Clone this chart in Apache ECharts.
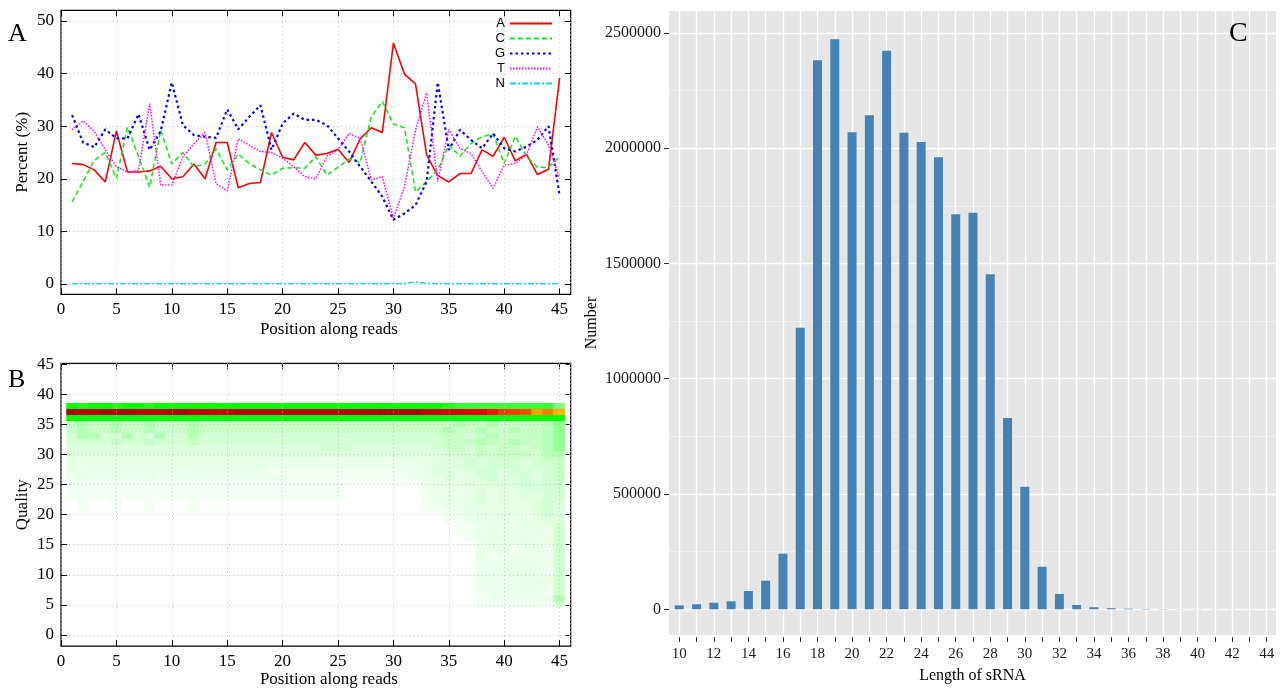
<!DOCTYPE html>
<html><head><meta charset="utf-8">
<script src="https://cdn.jsdelivr.net/npm/echarts@6/dist/echarts.min.js"></script>
<style>html,body{margin:0;padding:0;background:#fff}#c{width:1280px;height:689px}</style>
</head><body><div id="c"></div>
<script>
// ---------- Panel A: base composition (%) along reads ----------
const positions = [1,2,3,4,5,6,7,8,9,10,11,12,13,14,15,16,17,18,19,20,21,22,23,24,25,26,27,28,29,30,31,32,33,34,35,36,37,38,39,40,41,42,43,44,45];
const pctA = [22.9,22.7,21.7,19.4,29.1,21.3,21.3,21.5,22.4,20.0, 20.4,22.8,20.0,26.9,26.9,18.3,19.1,19.3,28.8,24.1, 23.6,26.9,24.5,24.8,25.6,23.1,27.6,29.7,28.8,45.8, 39.9,38.0,24.5,20.6,19.4,21.0,21.0,25.5,24.3,27.9, 23.4,24.7,20.8,21.8,39.2];
const pctC = [15.6,19.5,23.5,25.0,20.1,29.8,24.2,18.4,29.3,22.8, 25.0,22.3,22.8,25.7,21.7,24.7,22.9,21.7,20.7,22.0, 22.1,22.0,24.2,20.7,22.2,23.8,23.1,31.8,34.7,30.4, 29.7,17.5,19.5,21.7,26.4,24.3,26.7,28.0,28.5,22.9, 28.1,24.3,22.2,22.2,24.2];
const pctG = [32.1,26.9,26.0,29.4,27.7,27.7,32.3,25.5,29.1,38.3, 30.2,28.3,28.0,27.8,33.2,29.4,31.8,34.0,25.5,30.5, 32.4,31.2,31.2,30.2,27.7,25.2,22.3,19.5,16.6,12.2, 13.4,15.0,19.5,38.3,25.5,29.3,27.4,25.8,28.6,25.8, 25.2,26.1,27.4,30.0,16.8];
const pctT = [29.3,31.0,29.0,25.5,22.3,21.3,21.6,34.3,18.8,18.8, 24.2,26.7,28.8,19.1,17.7,27.6,26.4,25.2,25.0,23.9, 22.3,20.4,20.0,24.3,25.5,28.6,27.7,19.8,20.4,12.5, 18.5,29.3,36.3,19.5,29.4,25.8,24.8,21.4,18.2,22.6, 22.9,24.5,29.9,26.4,20.1];
const pctN = [0.05,0.05,0.05,0.05,0.05,0.05,0.05,0.05,0.05,0.05, 0.05,0.05,0.05,0.05,0.05,0.05,0.05,0.05,0.05,0.05, 0.05,0.05,0.05,0.05,0.05,0.05,0.05,0.05,0.05,0.05, 0.1,0.4,0.1,0.05,0.05,0.05,0.05,0.05,0.05,0.05, 0.05,0.05,0.05,0.05,0.05];

// ---------- Panel B: quality distribution heatmap ----------
const qualityLevels = [0,1,2,3,4,5,6,7,8,9,10,11,12,13,14,15,16,17,18,19,20,21,22,23,24,25,26,27,28,29,30,31,32,33,34,35,36,37,38,39,40];
const q38 = [12,9,12,10,9, 12,12,9,10,12, 10,12,12,12,12, 12,12,12,12,12, 12,12,12,12,12, 12,12,12,12,12, 12,12,12,12,9, 8,8,8,8,8, 8,8,8,8,5];
const q37 = [60,58,58,60,58, 60,58,58,58,58, 60,57,57,57,57, 58,58,58,58,58, 58,58,58,58,58, 59,59,61,62,62, 61,60,57,56,55, 55,52,52,48,44, 44,42,33,37,31];
const q36 = [12,12,12,12,12, 12,12,12,12,12, 12,12,12,12,12, 12,12,12,12,12, 12,12,12,12,12, 12,12,12,12,12, 12,12,12,12,12, 12,12,12,12,12, 12,12,12,12,10];
// percentage for each code digit used in the low-quality rows
const levelValues = [0, 0.2, 0.45, 0.7, 1.0, 1.35, 1.7, 2.2, 3.0, 4.2];
const lowRowQuality = [35,34,33,32,31,30,29,28,27,26,25,24,23,22,21,20,19,18,17,16,15,14,13,12,11,10,9,8,7,6,5,0];
const lowRowCodes = [
 "78778 77877 78777 77777 77777 77777 77777 87787 77789",
 "78778 77877 78777 77777 77777 77777 77778 77877 87789",
 "68866 86686 68666 66666 66666 66666 66667 76787 77789",
 "66667 66766 67666 66666 66666 66666 66667 77877 87789",
 "55555 55555 55555 55555 55566 65555 55566 76767 76789",
 "55555 55555 55555 55555 55555 55555 55556 66767 77688",
 "44444 44444 44444 44433 33333 33333 44455 56566 65677",
 "44444 44444 44444 44433 33333 33333 33455 56566 65667",
 "33333 33333 33333 33322 22222 22222 33455 45665 66567",
 "34334 33433 33333 33333 22222 22222 23345 45565 56567",
 "22222 22222 22222 22222 22222 11111 11344 45455 56566",
 "22222 22222 22222 22222 22222 00000 00234 44545 45566",
 "22222 22222 22222 22222 22222 00000 00234 34545 45466",
 "02002 00200 02000 00000 00000 00000 00234 34545 44565",
 "02002 00200 02010 00000 00000 00000 00223 34444 44565",
 "00000 00000 00000 00000 00000 00000 00002 33444 43465",
 "00000 00000 00000 00000 00000 00000 00002 23434 34455",
 "00000 00000 00000 00000 00000 00000 00000 22343 34446",
 "00000 00000 00000 00000 00000 00000 00000 22343 33436",
 "00000 00000 00000 00000 00000 00000 00000 02344 34346",
 "00000 00000 00000 00000 00000 00000 00000 00343 34436",
 "00000 00000 00000 00000 00000 00000 00000 00334 23446",
 "00000 00000 00000 00000 00000 00000 00000 00423 43336",
 "00000 00000 00000 00000 00000 00000 00000 00333 34346",
 "00000 00000 00000 00000 00000 00000 00000 00334 43436",
 "00000 00000 00000 00000 00000 00000 00000 00343 44336",
 "00000 00000 00000 00000 00000 00000 00000 00333 33446",
 "00000 00000 00000 00000 00000 00000 00000 00333 43436",
 "00000 00000 00000 00000 00000 00000 00000 00233 33336",
 "00000 00000 00000 00000 00000 00000 00000 00233 33348",
 "00000 00000 00000 00000 00000 00000 00000 00222 22225",
 "00000 00000 00000 00000 00000 00000 01000 00000 00000"
];

// ---------- Panel C: sRNA length distribution ----------
const lengths = [10,11,12,13,14,15,16,17,18,19,20,21,22,23,24,25,26,27,28,29,30,31,32,33,34,35,36,37,38,39,40,41,42,43,44];
const counts = [17300,21700,28600,34700,79400,124000,241100,1221000,2380700,2471800, 2068500,2142200,2422400,2066800,2026500,1960100,1712900,1719900,1452700,829600, 531700,184700,66300,18600,9000,4500,2500,1600,1100,800, 600,500,400,300,300];

// ---------- build ----------
const SERIF = 'Liberation Serif';
const pairs = arr => arr.map((v, i) => [positions[i], v]);
const heatData = [];
[[38, q38], [37, q37], [36, q36]].forEach(([q, row]) => row.forEach((v, i) => heatData.push([i, q, v])));
lowRowCodes.forEach((s, r) => {
  s.replace(/ /g, '').split('').forEach((c, i) => {
    if (c !== '0') heatData.push([i, lowRowQuality[r], levelValues[+c]]);
  });
});

const dotted = {show: true, lineStyle: {color: '#c4c4c4', type: [1, 3], width: 1}};
const blackTick = {show: true, inside: true, length: 6, lineStyle: {color: '#000', width: 1}};
const serifLabel = {margin: 7, fontFamily: SERIF, fontSize: 17, color: '#000'};
const nameSerif = {fontFamily: SERIF, fontSize: 17, color: '#000'};
const hiddenAxis = (gridIndex, extra) => Object.assign({type: 'value', gridIndex, min: 0, max: 1, show: true,
  axisLine: {show: false}, axisTick: {show: false}, axisLabel: {show: false}, splitLine: {show: false}}, extra || {});

const grids = [
  {left: 61, top: 10.3, width: 509.7, height: 284, show: true, borderColor: '#000', borderWidth: 1.2, backgroundColor: 'transparent'},
  {left: 61, top: 21, width: 509.7, height: 263},
  {left: 61, top: 363.3, width: 509.7, height: 284.4, show: true, borderColor: '#000', borderWidth: 1.2, backgroundColor: 'transparent'},
  {left: 61, top: 364.1, width: 509.7, height: 270.9},
  {left: 66.5, top: 391.2, width: 498.2, height: 246.8},
  {left: 669, top: 11, width: 607, height: 626, show: true, backgroundColor: '#e6e6e6', borderWidth: 0},
  {left: 679.3, top: 11, width: 587.4, height: 626},
  {left: 669, top: 32.8, width: 607, height: 576.5},
  {left: 679.3, top: 32.8, width: 587.4, height: 576.5}
];

const xAxes = [
  {type: 'value', gridIndex: 0, min: 0, max: 46, interval: 5, position: 'bottom', axisLine: {show: false}, axisTick: blackTick,
   axisLabel: Object.assign({showMaxLabel: false}, serifLabel), splitLine: dotted,
   name: 'Position along reads', nameLocation: 'middle', nameGap: 27, nameTextStyle: Object.assign({padding: [0, 0, 0, 26]}, nameSerif)},
  {type: 'value', gridIndex: 0, min: 0, max: 46, interval: 5, position: 'top', axisLine: {show: false}, axisTick: blackTick, axisLabel: {show: false}, splitLine: {show: false}},
  {type: 'value', gridIndex: 1, min: 0, max: 46, show: false},
  {type: 'value', gridIndex: 2, min: 0, max: 46, interval: 5, position: 'bottom', z: 3, axisLine: {show: false}, axisTick: blackTick,
   axisLabel: Object.assign({showMaxLabel: false}, serifLabel), splitLine: dotted,
   name: 'Position along reads', nameLocation: 'middle', nameGap: 24, nameTextStyle: Object.assign({padding: [0, 0, 0, 26]}, nameSerif)},
  {type: 'value', gridIndex: 2, min: 0, max: 46, interval: 5, position: 'top', axisLine: {show: false}, axisTick: blackTick, axisLabel: {show: false}, splitLine: {show: false}},
  {type: 'value', gridIndex: 3, min: 0, max: 46, show: false},
  {type: 'category', gridIndex: 4, data: positions, show: false},
  hiddenAxis(5, {name: 'Length of sRNA', nameLocation: 'middle', nameGap: 33, nameTextStyle: {fontFamily: SERIF, fontSize: 16, color: '#000'}}),
  {type: 'value', gridIndex: 6, min: 10, max: 44, interval: 1, position: 'bottom', axisLine: {show: false},
   axisTick: {show: true, length: 5, lineStyle: {color: '#333', width: 1}},
   axisLabel: {margin: 10, fontFamily: SERIF, fontSize: 15, color: '#1a1a1a', formatter: v => (v % 2 === 0 ? String(v) : '')},
   splitLine: {show: true, lineStyle: {color: '#ffffff', width: 1.4}}},
  {type: 'value', gridIndex: 7, show: false},
  {type: 'value', gridIndex: 8, min: 10, max: 44, show: false}
];

const yAxes = [
  hiddenAxis(0, {name: 'Percent (%)', nameLocation: 'middle', nameGap: 30, nameTextStyle: nameSerif}),
  {type: 'value', gridIndex: 1, min: 0, max: 50, interval: 10, position: 'left', axisLine: {show: false}, axisTick: blackTick, axisLabel: serifLabel, splitLine: dotted},
  {type: 'value', gridIndex: 1, min: 0, max: 50, interval: 10, position: 'right', axisLine: {show: false}, axisTick: blackTick, axisLabel: {show: false}, splitLine: {show: false}},
  hiddenAxis(2, {name: 'Quality', nameLocation: 'middle', nameGap: 30, nameTextStyle: nameSerif}),
  {type: 'value', gridIndex: 3, min: 0, max: 45, interval: 5, position: 'left', z: 3, axisLine: {show: false}, axisTick: blackTick, axisLabel: serifLabel, splitLine: dotted},
  {type: 'value', gridIndex: 3, min: 0, max: 45, interval: 5, position: 'right', axisLine: {show: false}, axisTick: blackTick, axisLabel: {show: false}, splitLine: {show: false}},
  {type: 'category', gridIndex: 4, data: qualityLevels, show: false},
  hiddenAxis(5, {name: 'Number', nameLocation: 'middle', nameGap: 69, nameTextStyle: {fontFamily: SERIF, fontSize: 16, color: '#000'}}),
  {type: 'value', gridIndex: 6, show: false},
  {type: 'value', gridIndex: 7, min: 0, max: 2500000, interval: 500000, position: 'left', axisLine: {show: false},
   axisTick: {show: true, length: 5, lineStyle: {color: '#333', width: 1}},
   axisLabel: {margin: 8, fontFamily: SERIF, fontSize: 16, color: '#1a1a1a', formatter: v => String(v)},
   splitLine: {show: true, lineStyle: {color: '#ffffff', width: 1.4}},
   minorTick: {show: false, splitNumber: 2},
   minorSplitLine: {show: true, lineStyle: {color: '#f2f2f2', width: 0.8}}},
  {type: 'value', gridIndex: 8, min: 0, max: 2500000, show: false}
];

const lineSeries = (name, data, color, type, width) => ({
  name, type: 'line', xAxisIndex: 2, yAxisIndex: 1, data: pairs(data), symbol: 'none', showSymbol: false,
  lineStyle: {color, type, width}, itemStyle: {color}
});

const option = {
  animation: false,
  grid: grids,
  xAxis: xAxes,
  yAxis: yAxes,
  legend: {
    data: ['A', 'C', 'G', 'T', 'N'], orient: 'vertical', align: 'right', right: 727, top: 17,
    itemWidth: 42, itemHeight: 10, itemGap: 2, padding: 0,
    itemStyle: {opacity: 0, color: 'rgba(0,0,0,0)', borderWidth: 0},
    textStyle: {fontFamily: 'Liberation Sans', fontSize: 13, color: '#000'}
  },
  visualMap: {
    type: 'continuous', show: false, seriesIndex: 5, dimension: 2, min: 0, max: 60,
    inRange: {color: ['#ffffff', '#00ff00', '#00ff00', '#ffc000', '#ff6000', '#ff0000', '#b00000']}
  },
  series: [
    lineSeries('A', pctA, '#ff0000', 'solid', 1.6),
    lineSeries('C', pctC, '#1ee61e', [5, 3], 1.6),
    lineSeries('G', pctG, '#0000ff', [2.5, 3], 2.2),
    lineSeries('T', pctT, '#ff00ff', [1.5, 1.5], 1.5),
    lineSeries('N', pctN, '#10d8e0', [6, 2, 2, 2], 1.5),
    {type: 'heatmap', xAxisIndex: 6, yAxisIndex: 6, data: heatData, itemStyle: {borderWidth: 0}},
    {type: 'bar', xAxisIndex: 10, yAxisIndex: 10, data: lengths.map((l, i) => [l, counts[i]]),
     barWidth: 9, clip: false, itemStyle: {color: '#4682b4'}}
  ],
  graphic: [
    {type: 'text', z: 100, left: 8, top: 21, style: {text: 'A', font: '26px "Liberation Serif"', fill: '#000'}},
    {type: 'text', z: 100, left: 8, top: 367, style: {text: 'B', font: '26px "Liberation Serif"', fill: '#000'}},
    {type: 'text', z: 100, left: 1229, top: 20, style: {text: 'C', font: '28px "Liberation Serif"', fill: '#000'}}
  ]
};

const chart = echarts.init(document.getElementById('c'), null, {renderer: 'canvas'});
chart.setOption(option);
</script>
</body></html>
